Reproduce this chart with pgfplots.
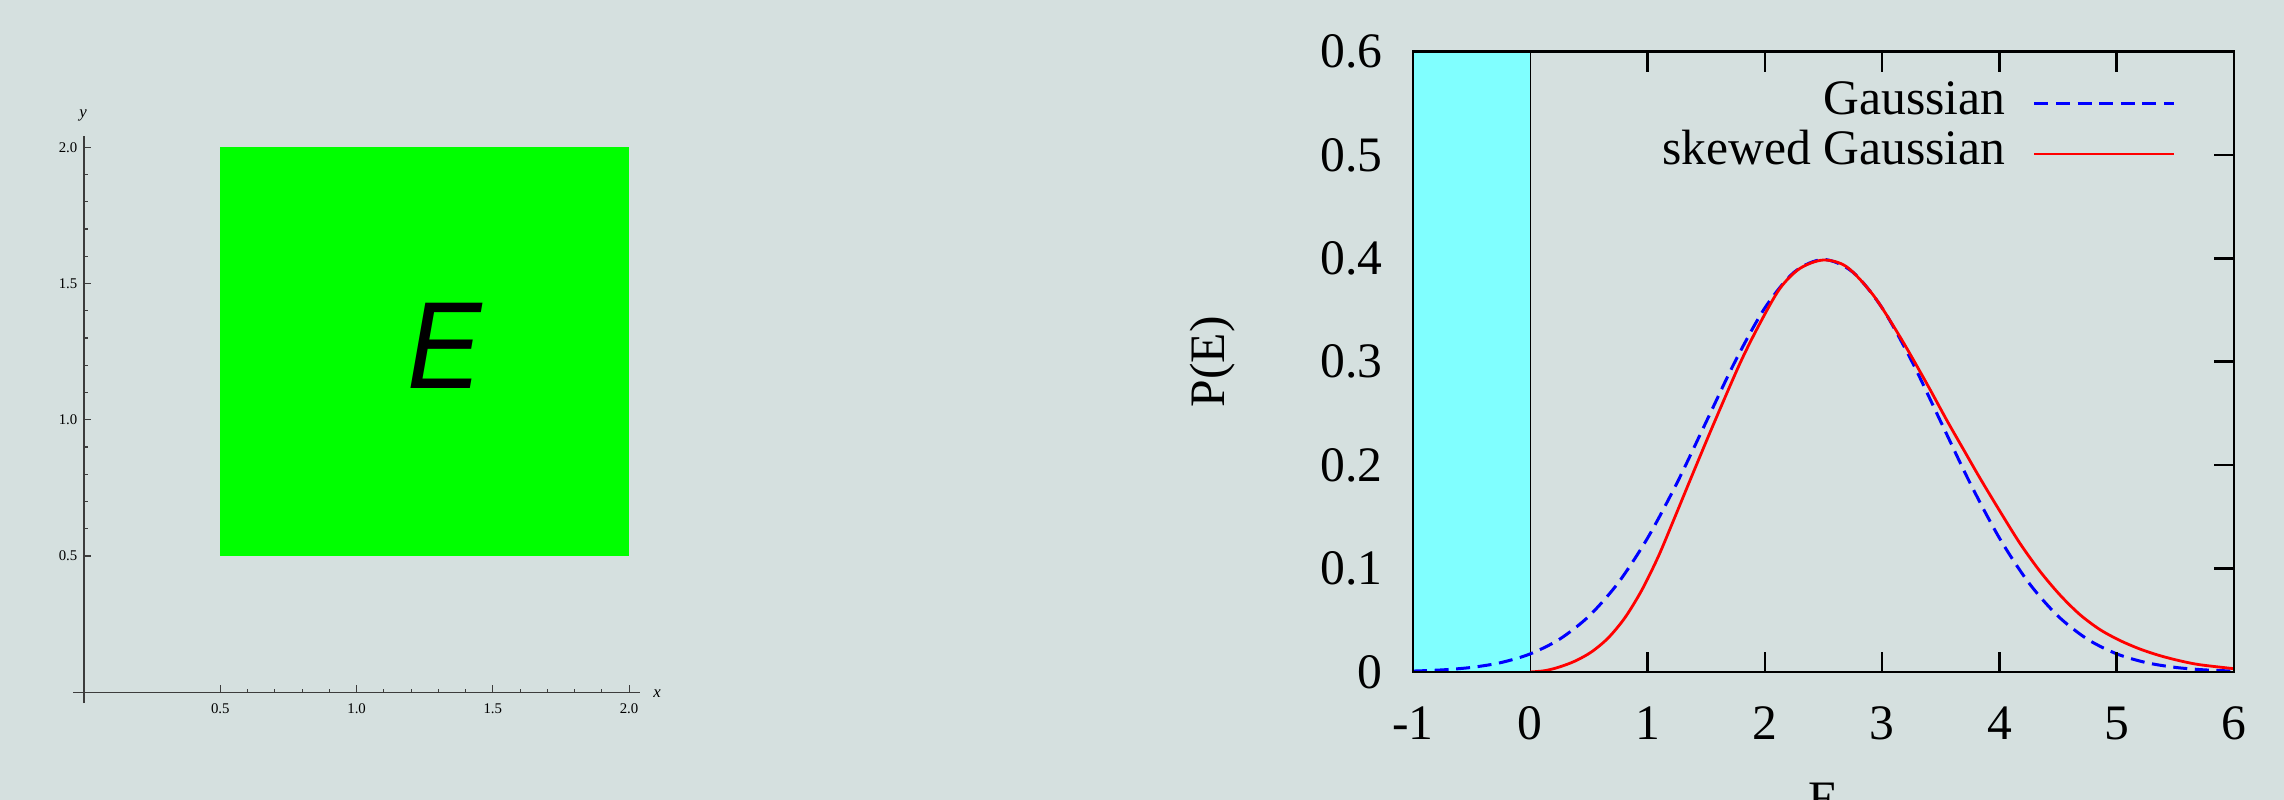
\documentclass[border=0pt]{standalone}
\usepackage{fontspec}
\setmainfont{Liberation Serif}
\newfontfamily\sansfont{Liberation Sans}
\usepackage{pgfplots}
\pgfplotsset{compat=1.18}
\definecolor{bg}{RGB}{213,224,223}
\definecolor{cyanbox}{RGB}{128,255,255}
\definecolor{brightgreen}{RGB}{0,255,0}
\definecolor{axgray}{RGB}{60,60,60}
\begin{document}
\begin{tikzpicture}
\useasboundingbox (0,0) rectangle (571pt,200pt);
\fill[bg] (0,0) rectangle (571pt,200pt);
\clip (0,0) rectangle (571pt,200pt);
% ---------------- left panel ----------------
\begin{axis}[
  at={(18.3pt,24.2pt)}, anchor=south west,
  width=141.7pt, height=141.7pt, scale only axis,
  xmin=-0.04, xmax=2.04, ymin=-0.04, ymax=2.04,
  axis lines=middle,
  axis line style={axgray, line width=0.35pt, -},
  xtick={0.5,1,1.5,2}, ytick={0.5,1,1.5,2},
  minor tick num=4,
  major tick length=1.7pt, minor tick length=0.9pt,
  tick style={axgray, line width=0.3pt},
  tick align=inside,
  ticklabel style={font=\fontsize{3.7}{4}\selectfont},
  xticklabel style={anchor=north, inner sep=0pt, yshift=-2.6pt},
  yticklabel style={anchor=east, inner sep=0pt, xshift=-1.5pt},
  /pgf/number format/.cd, fixed, fixed zerofill, precision=1, assume math mode=true,
  /pgfplots/.cd,
  xlabel={\textit{x}}, ylabel={\textit{y}},
  xlabel style={at={(axis description cs:1.030,0.016)}, anchor=center, inner sep=0pt, font=\fontsize{4.2}{5}\selectfont},
  ylabel style={at={(axis description cs:0.0173,1.0365)}, anchor=center, inner sep=0pt, rotate=0, font=\fontsize{4.2}{5}\selectfont},
  clip=false,
]
\addplot[fill=brightgreen, draw=none] coordinates {(0.5,0.5)(2,0.5)(2,2)(0.5,2)} -- cycle;
\node[font=\sansfont\itshape\fontsize{31}{31}\selectfont, inner sep=0pt] at (axis cs:1.325,1.271) {\scalebox{0.9}[1]{E}};
\end{axis}
% ---------------- right panel ----------------
\begin{axis}[
  at={(353.25pt,32pt)}, anchor=south west,
  width=205.25pt, height=155.1pt, scale only axis,
  xmin=-1, xmax=6, ymin=0, ymax=0.6,
  axis on top,
  axis line style={line width=0.65pt},
  xtick={-1,1,2,3,4,5,6},
  extra x ticks={0}, extra x tick style={major tick length=0pt},
  ytick={0,0.1,0.2,0.3,0.4,0.5,0.6},
  ytick pos=right, yticklabel pos=left,
  major tick length=5pt,
  tick style={black, line width=0.65pt},
  tick align=inside,
  ticklabel style={font=\fontsize{12.4}{14}\selectfont},
  yticklabel style={anchor=east, inner sep=0pt, xshift=-7.5pt},
  xticklabel style={anchor=north, inner sep=0pt, yshift=-8.5pt},
  /pgf/number format/assume math mode=true,
  xlabel={E}, ylabel={P(E)},
  label style={font=\fontsize{12.4}{14}\selectfont},
  xlabel style={at={(axis description cs:0.5,-0.1773)}, anchor=north, inner sep=0pt},
  ylabel style={at={(axis description cs:-0.2436,0.5)}, anchor=center, inner sep=0pt},
  legend plot pos=right,
  legend cell align=right,
  legend image code/.code={\draw[#1] (0pt,0pt) -- (35pt,0pt);},
  legend style={draw=none, fill=none, at={(axis cs:5.505,0.5735)}, anchor=north east,
    inner sep=0pt, outer sep=0pt, column sep=6.9pt, row sep=0pt,
    font=\fontsize{12.4}{14}\selectfont,
    nodes={inner sep=0pt, text height=9pt, text depth=3.5pt}},
]
\addplot[fill=cyanbox, draw=none, forget plot] coordinates {(-1,0)(0,0)(0,0.6)(-1,0.6)} -- cycle;
\addplot[black, line width=0.25pt, forget plot] coordinates {(0,0)(0,0.6)};
\addplot[blue, line width=0.75pt, smooth, dash pattern=on 3.5pt off 1.9pt] coordinates {
(-1,0.000873)(-0.75,0.002029)(-0.5,0.004432)(-0.25,0.009094)(0,0.017528)(0.25,0.031740)(0.5,0.053991)(0.75,0.086277)(1,0.129518)(1.25,0.182649)(1.5,0.241971)(1.75,0.301137)(2,0.352065)(2.25,0.386668)(2.5,0.398942)(2.75,0.386668)(3,0.352065)(3.25,0.301137)(3.5,0.241971)(3.75,0.182649)(4,0.129518)(4.25,0.086277)(4.5,0.053991)(4.75,0.031740)(5,0.017528)(5.25,0.009094)(5.5,0.004432)(5.75,0.002029)(6,0.000873)};
\addlegendentry{Gaussian}
\addplot[red, line width=0.7pt, smooth] coordinates {
(0,0)(0.12,0.0012)(0.239,0.0045)(0.381,0.0105)(0.523,0.0195)(0.665,0.0330)(0.807,0.0525)(0.95,0.0790)(1.091,0.1115)(1.219,0.146)(1.39,0.193)(1.56,0.239)(1.788,0.2985)(1.958,0.3372)(2.129,0.371)(2.299,0.3903)(2.498,0.3984)(2.697,0.3919)(2.924,0.3645)(3.152,0.3242)(3.379,0.2792)(3.55,0.2437)(3.692,0.2155)(3.834,0.1875)(4.004,0.1555)(4.175,0.1244)(4.345,0.0975)(4.516,0.0745)(4.686,0.0555)(4.857,0.0410)(5.027,0.0305)(5.198,0.0222)(5.368,0.0158)(5.539,0.0108)(5.709,0.0070)(6,0.0032)};
\addlegendentry{skewed Gaussian}
\end{axis}
\end{tikzpicture}
\end{document}
